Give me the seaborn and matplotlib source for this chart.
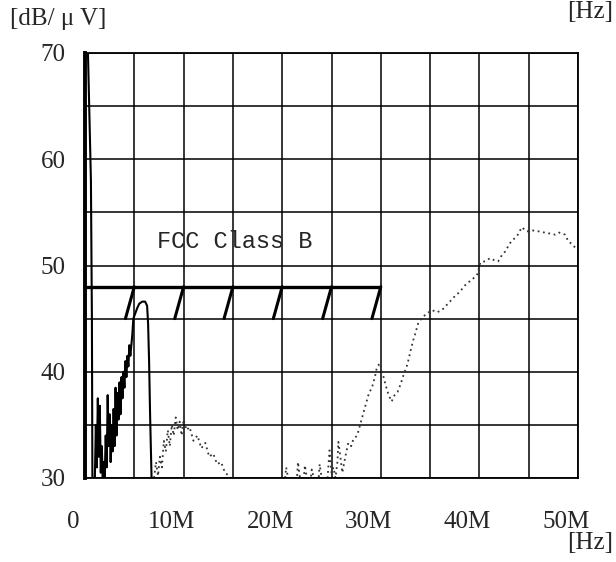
import matplotlib
matplotlib.use("Agg")
import matplotlib.pyplot as plt
import matplotlib.transforms as mtransforms
import seaborn as sns
import numpy as np
import pandas as pd

# ---------------- data ----------------
# solid trace (0 - 7 MHz), frequency in MHz, level in dB/uV
solid_f = [0.2, 0.3, 0.5, 0.6, 0.7, 0.75, 1.0, 1.1, 1.2, 1.3, 1.4, 1.5, 1.6, 1.7,
           1.8, 1.9, 2.0, 2.1, 2.2, 2.3, 2.4, 2.5, 2.6, 2.7, 2.8, 2.9, 3.0, 3.1,
           3.2, 3.3, 3.4, 3.5, 3.6, 3.7, 3.8, 3.9, 4.0, 4.1, 4.2, 4.3, 4.4, 4.5,
           4.6, 4.8, 4.9, 5.1, 5.3, 5.5, 5.8, 6.1, 6.3, 6.4, 6.5, 6.6, 6.75]
solid_db = [70, 70, 62, 58, 45, 30, 30, 35, 31, 37.5, 32, 36.8, 30.5, 33,
            30, 31.5, 30, 34, 31, 37.8, 33, 36, 31.5, 35, 32.5, 36.5, 33, 38.5,
            34, 38, 35.5, 39, 36, 39.5, 37.5, 40, 38.5, 41, 39.5, 41.5, 40.5, 42.5,
            41.5, 43.5, 45, 45.5, 46, 46.4, 46.6, 46.6, 46.2, 44.5, 41, 36, 30]

# dotted trace 1 (7 - 15 MHz)
dot1_f = [7.0, 7.2, 7.4, 7.6, 7.8, 8.0, 8.2, 8.4, 8.6, 8.8, 9.0, 9.2, 9.4, 9.6, 9.8,
          10.0, 10.3, 10.6, 11.0, 11.4, 11.8, 12.2, 12.6, 13.0, 13.4, 13.8, 14.2,
          14.6, 14.8]
dot1_db = [30, 31.5, 30.2, 32, 31, 33.5, 32.5, 34.5, 33, 35, 34, 35.7, 34.5, 35.3,
           34, 35.5, 34.5, 34.8, 33.5, 34, 32.8, 33.3, 32, 32.3, 31.3, 31.5, 30.5, 30.2, 30]

# dotted trace 2 (20 - 50 MHz)
dot2_f = [20.3, 20.4, 20.6, 21.5, 21.6, 21.8, 22.2, 22.3, 22.5, 22.9, 23.0, 23.2,
          23.7, 23.8, 24.0, 24.6, 24.8, 25.0, 25.2, 25.4, 25.6, 25.7, 25.9, 26.1,
          26.4, 26.7, 27.0, 27.2, 27.6, 27.9, 28.2, 28.5, 28.8, 29.1, 29.4, 29.6,
          29.9, 30.2, 30.5, 30.8, 31.1, 31.4, 31.7, 32.0, 32.2, 32.5, 32.7, 33.0,
          33.3, 33.5, 33.8, 34.2, 34.7, 35.2, 35.7, 36.2, 36.7, 37.2, 37.6, 38.0,
          38.5, 39.0, 39.4, 39.8, 40.1, 40.6, 41.1, 41.5, 41.9, 42.3, 42.6, 43.1,
          43.5, 43.9, 44.3, 44.8, 45.4, 46.1, 46.6, 47.2, 47.7, 48.1, 48.4, 48.7,
          49.0, 49.4, 49.7]
dot2_db = [30, 31, 30, 30, 31.5, 30, 30, 31.2, 30, 30, 30.8, 30,
           30, 31.3, 30, 30, 32.6, 30.5, 31, 30, 31.5, 33.4, 32, 30.5,
           32, 33.3, 33, 33.6, 34, 35, 36, 37, 38, 38.5, 39.5, 40.4,
           40.8, 39.8, 38.7, 37.8, 37.2, 37.8, 38.1, 38.8, 39.4, 40.2, 40.7, 41.9,
           43, 43.6, 44.6, 45.1, 45.5, 45.8, 45.6, 45.8, 46.3, 46.8, 47.2, 47.5,
           48.1, 48.5, 48.8, 49.2, 50.3, 50.4, 50.7, 50.5, 50.4, 51, 51.3, 52.1,
           52.5, 52.9, 53.6, 53.2, 53.3, 53.2, 53.1, 53.0, 52.9, 53.1, 53.0, 52.9,
           52.3, 52.0, 51.7]

# FCC Class B limit
fcc_f = [0, 30]
fcc_db = [48, 48]
hatch_f = [5, 10, 15, 20, 25, 30]
hatch_low_db = 45

x_ticks = [0, 10, 20, 30, 40, 50]
x_labels = ["0", "10M", "20M", "30M", "40M", "50M"]
y_ticks = [30, 40, 50, 60, 70]

# ---------------- plot ----------------
sns.set_style("white")
plt.rcParams["font.family"] = ["Liberation Serif", "DejaVu Serif"]

fig = plt.figure(figsize=(6.16, 5.62), dpi=100)
ax = fig.add_axes([85 / 616, 1 - 478 / 562, (578 - 85) / 616, (478 - 53) / 562])

ax.set_xlim(0, 50)
ax.set_ylim(30, 70)

# grid
ax.set_xticks(x_ticks)
ax.set_xticklabels(x_labels)
ax.set_xticks(np.arange(5, 50, 10), minor=True)
ax.set_yticks(y_ticks)
ax.set_yticks(np.arange(35, 70, 10), minor=True)
ax.grid(True, which="both", color="black", linewidth=1.1)
ax.set_axisbelow(True)
ax.tick_params(axis="both", which="both", length=0)
ax.tick_params(axis="x", pad=24, labelsize=18)
ax.tick_params(axis="y", pad=14, labelsize=18)

shift = mtransforms.ScaledTranslation(-12 / 100, 0, fig.dpi_scale_trans)
for lbl in ax.get_xticklabels():
    lbl.set_transform(lbl.get_transform() + shift)

for s in ["top", "right", "bottom"]:
    ax.spines[s].set_linewidth(1.3)
    ax.spines[s].set_color("black")
ax.spines["left"].set_linewidth(2.8)
ax.spines["left"].set_color("black")

# traces
d_solid = pd.DataFrame({"f": solid_f, "db": solid_db})
sns.lineplot(data=d_solid, x="f", y="db", ax=ax, color="black", linewidth=1.5,
             estimator=None, sort=False)
d1 = pd.DataFrame({"f": dot1_f, "db": dot1_db})
sns.lineplot(data=d1, x="f", y="db", ax=ax, color="#333333", linewidth=1.3,
             linestyle=(0, (1, 2.0)), estimator=None, sort=False)
d2 = pd.DataFrame({"f": dot2_f, "db": dot2_db})
sns.lineplot(data=d2, x="f", y="db", ax=ax, color="#333333", linewidth=1.3,
             linestyle=(0, (1, 2.0)), estimator=None, sort=False)

# FCC limit
ax.plot(fcc_f, fcc_db, color="black", linewidth=2.4, solid_capstyle="butt")
for hf in hatch_f:
    ax.plot([hf - 0.9, hf], [hatch_low_db, fcc_db[0]], color="black", linewidth=2.2)

ax.text(15.2, 52.3, "FCC Class B", family=["Liberation Mono", "DejaVu Sans Mono"],
        fontsize=17, ha="center", va="center")

ax.set_xlabel("")
ax.set_ylabel("")

fig.text(10 / 616, 1 - 19 / 562, "[dB/ \u03bc V]", fontsize=18, ha="left", va="center")
fig.text(613 / 616, 1 - 12 / 562, "[Hz]", fontsize=18, ha="right", va="center")
fig.text(613 / 616, 1 - 543 / 562, "[Hz]", fontsize=18, ha="right", va="center")

fig.savefig("out.png", dpi=100, facecolor="white")
